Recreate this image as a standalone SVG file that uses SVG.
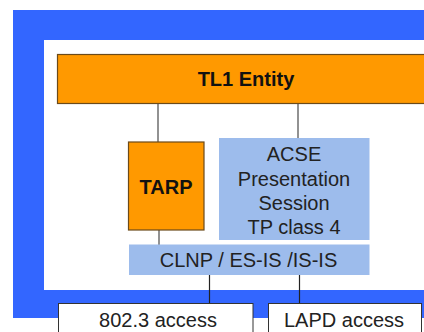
<svg xmlns="http://www.w3.org/2000/svg" width="424" height="332" viewBox="0 0 424 332">
<style>
text{font-family:"Liberation Sans",Arial,sans-serif;font-size:20px;fill:#222;text-anchor:middle}
.b{font-weight:bold;fill:#111}
.or{fill:#FF9900;stroke:#6B4A1A;stroke-width:1.2}
.lb{fill:#9DBCEC}
.wb{fill:#fff;stroke:#333;stroke-width:1}
.c1{stroke:#777;stroke-width:1.6;fill:none}
.c2{stroke:#222;stroke-width:1.2;fill:none}
</style>
<g id="frame">
<rect x="13" y="10" width="420" height="308" fill="#3366FF"/>
<rect x="44" y="40" width="390" height="250" fill="#fff"/>
</g>
<g id="connectors">
<line class="c1" x1="158" y1="104" x2="158" y2="142"/>
<line class="c1" x1="298" y1="104" x2="298" y2="138"/>
<line class="c1" x1="159" y1="230" x2="159" y2="245"/>
<line class="c2" x1="209.5" y1="275" x2="209.5" y2="303.5"/>
<line class="c2" x1="299.5" y1="275" x2="299.5" y2="303.5"/>
</g>
<g id="tl1">
<rect class="or" x="57.5" y="54.5" width="380" height="49"/>
<text class="b" x="246" y="86">TL1 Entity</text>
</g>
<g id="tarp">
<rect class="or" x="128.5" y="142" width="75.5" height="88"/>
<text class="b" x="166" y="194">TARP</text>
</g>
<g id="acse">
<rect class="lb" x="219" y="138" width="150.5" height="102"/>
<text x="294" y="160.5">ACSE</text>
<text x="294" y="185.5">Presentation</text>
<text x="294" y="209.5">Session</text>
<text x="294" y="234">TP class 4</text>
</g>
<g id="clnp">
<rect class="lb" x="129" y="244.5" width="240.5" height="30.5"/>
<text x="248.5" y="266.5">CLNP / ES-IS /IS-IS</text>
</g>
<g id="ieee">
<rect class="wb" x="58.5" y="303.5" width="194.5" height="40"/>
<text x="158" y="327">802.3 access</text>
</g>
<g id="lapd">
<rect class="wb" x="268.5" y="303.5" width="153" height="40"/>
<text x="344" y="327">LAPD access</text>
</g>
</svg>
